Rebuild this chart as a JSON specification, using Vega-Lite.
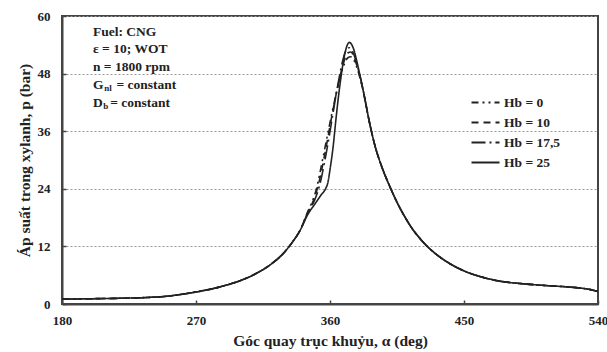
{
  "$schema": "https://vega.github.io/schema/vega-lite/v6.json",
  "width": 536,
  "height": 288,
  "autosize": {"type": "none"},
  "padding": {"left": 62, "top": 16, "right": 9, "bottom": 48},
  "background": "white",
  "config": {
    "view": {"stroke": "#444", "strokeWidth": 2},
    "font": "Liberation Serif",
    "text": {"font": "Liberation Serif", "fontWeight": "bold", "color": "#222"},
    "axis": {
      "labelFont": "Liberation Serif", "labelFontWeight": "bold", "labelFontSize": 13, "labelColor": "#222",
      "titleFont": "Liberation Serif", "titleFontWeight": "bold", "titleFontSize": 15.5, "titleColor": "#222",
      "domainColor": "#444", "domainWidth": 2, "tickColor": "#444", "tickWidth": 1.5
    }
  },
  "datasets": {
    "curves": [
      {"a":180,"p":1.0,"s":"Hb = 0"},{"a":200,"p":1.1,"s":"Hb = 0"},{"a":220,"p":1.2,"s":"Hb = 0"},{"a":240,"p":1.4,"s":"Hb = 0"},{"a":250,"p":1.6,"s":"Hb = 0"},{"a":260,"p":2.0,"s":"Hb = 0"},{"a":270,"p":2.5,"s":"Hb = 0"},{"a":280,"p":3.1,"s":"Hb = 0"},{"a":290,"p":3.9,"s":"Hb = 0"},{"a":300,"p":4.9,"s":"Hb = 0"},{"a":310,"p":6.3,"s":"Hb = 0"},{"a":320,"p":8.2,"s":"Hb = 0"},{"a":330,"p":11.0,"s":"Hb = 0"},{"a":335,"p":13.0,"s":"Hb = 0"},{"a":340,"p":15.4,"s":"Hb = 0"},
      {"a":345,"p":19.2,"s":"Hb = 0"},{"a":348,"p":21.3,"s":"Hb = 0"},{"a":350,"p":23.0,"s":"Hb = 0"},{"a":352,"p":25.5,"s":"Hb = 0"},{"a":354,"p":28.5,"s":"Hb = 0"},{"a":356,"p":31.6,"s":"Hb = 0"},{"a":358,"p":34.7,"s":"Hb = 0"},{"a":360,"p":37.8,"s":"Hb = 0"},{"a":362,"p":40.8,"s":"Hb = 0"},{"a":364,"p":43.6,"s":"Hb = 0"},{"a":366,"p":46.2,"s":"Hb = 0"},{"a":368,"p":48.5,"s":"Hb = 0"},{"a":370,"p":50.3,"s":"Hb = 0"},{"a":372,"p":51.3,"s":"Hb = 0"},{"a":374,"p":51.5,"s":"Hb = 0"},{"a":376,"p":50.8,"s":"Hb = 0"},{"a":378,"p":49.3,"s":"Hb = 0"},{"a":380,"p":47.3,"s":"Hb = 0"},{"a":383,"p":43.3,"s":"Hb = 0"},{"a":386,"p":38.6,"s":"Hb = 0"},
      {"a":390,"p":33.2,"s":"Hb = 0"},{"a":395,"p":28.4,"s":"Hb = 0"},{"a":400,"p":24.6,"s":"Hb = 0"},{"a":405,"p":21.2,"s":"Hb = 0"},{"a":410,"p":18.3,"s":"Hb = 0"},{"a":415,"p":15.8,"s":"Hb = 0"},{"a":420,"p":13.8,"s":"Hb = 0"},{"a":425,"p":12.1,"s":"Hb = 0"},{"a":430,"p":10.7,"s":"Hb = 0"},{"a":440,"p":8.5,"s":"Hb = 0"},{"a":450,"p":6.9,"s":"Hb = 0"},{"a":460,"p":5.8,"s":"Hb = 0"},{"a":470,"p":5.0,"s":"Hb = 0"},{"a":480,"p":4.5,"s":"Hb = 0"},{"a":490,"p":4.2,"s":"Hb = 0"},{"a":500,"p":3.95,"s":"Hb = 0"},{"a":510,"p":3.75,"s":"Hb = 0"},{"a":520,"p":3.55,"s":"Hb = 0"},{"a":530,"p":3.25,"s":"Hb = 0"},{"a":535,"p":3.0,"s":"Hb = 0"},{"a":540,"p":2.6,"s":"Hb = 0"},

      {"a":180,"p":1.0,"s":"Hb = 10"},{"a":200,"p":1.1,"s":"Hb = 10"},{"a":220,"p":1.2,"s":"Hb = 10"},{"a":240,"p":1.4,"s":"Hb = 10"},{"a":250,"p":1.6,"s":"Hb = 10"},{"a":260,"p":2.0,"s":"Hb = 10"},{"a":270,"p":2.5,"s":"Hb = 10"},{"a":280,"p":3.1,"s":"Hb = 10"},{"a":290,"p":3.9,"s":"Hb = 10"},{"a":300,"p":4.9,"s":"Hb = 10"},{"a":310,"p":6.3,"s":"Hb = 10"},{"a":320,"p":8.2,"s":"Hb = 10"},{"a":330,"p":11.0,"s":"Hb = 10"},{"a":335,"p":13.0,"s":"Hb = 10"},{"a":340,"p":15.4,"s":"Hb = 10"},
      {"a":345,"p":19.0,"s":"Hb = 10"},{"a":348,"p":20.9,"s":"Hb = 10"},{"a":350,"p":22.5,"s":"Hb = 10"},{"a":352,"p":24.6,"s":"Hb = 10"},{"a":354,"p":27.3,"s":"Hb = 10"},{"a":356,"p":30.4,"s":"Hb = 10"},{"a":358,"p":33.7,"s":"Hb = 10"},{"a":360,"p":37.1,"s":"Hb = 10"},{"a":362,"p":40.4,"s":"Hb = 10"},{"a":364,"p":43.5,"s":"Hb = 10"},{"a":366,"p":46.4,"s":"Hb = 10"},{"a":368,"p":49.0,"s":"Hb = 10"},{"a":370,"p":51.1,"s":"Hb = 10"},{"a":372,"p":52.3,"s":"Hb = 10"},{"a":374,"p":52.5,"s":"Hb = 10"},{"a":376,"p":51.6,"s":"Hb = 10"},{"a":378,"p":49.7,"s":"Hb = 10"},{"a":380,"p":47.5,"s":"Hb = 10"},{"a":383,"p":43.4,"s":"Hb = 10"},{"a":386,"p":38.6,"s":"Hb = 10"},
      {"a":390,"p":33.2,"s":"Hb = 10"},{"a":395,"p":28.4,"s":"Hb = 10"},{"a":400,"p":24.6,"s":"Hb = 10"},{"a":405,"p":21.2,"s":"Hb = 10"},{"a":410,"p":18.3,"s":"Hb = 10"},{"a":415,"p":15.8,"s":"Hb = 10"},{"a":420,"p":13.8,"s":"Hb = 10"},{"a":425,"p":12.1,"s":"Hb = 10"},{"a":430,"p":10.7,"s":"Hb = 10"},{"a":440,"p":8.5,"s":"Hb = 10"},{"a":450,"p":6.9,"s":"Hb = 10"},{"a":460,"p":5.8,"s":"Hb = 10"},{"a":470,"p":5.0,"s":"Hb = 10"},{"a":480,"p":4.5,"s":"Hb = 10"},{"a":490,"p":4.2,"s":"Hb = 10"},{"a":500,"p":3.95,"s":"Hb = 10"},{"a":510,"p":3.75,"s":"Hb = 10"},{"a":520,"p":3.55,"s":"Hb = 10"},{"a":530,"p":3.25,"s":"Hb = 10"},{"a":535,"p":3.0,"s":"Hb = 10"},{"a":540,"p":2.6,"s":"Hb = 10"},

      {"a":180,"p":1.0,"s":"Hb = 17,5"},{"a":200,"p":1.1,"s":"Hb = 17,5"},{"a":220,"p":1.2,"s":"Hb = 17,5"},{"a":240,"p":1.4,"s":"Hb = 17,5"},{"a":250,"p":1.6,"s":"Hb = 17,5"},{"a":260,"p":2.0,"s":"Hb = 17,5"},{"a":270,"p":2.5,"s":"Hb = 17,5"},{"a":280,"p":3.1,"s":"Hb = 17,5"},{"a":290,"p":3.9,"s":"Hb = 17,5"},{"a":300,"p":4.9,"s":"Hb = 17,5"},{"a":310,"p":6.3,"s":"Hb = 17,5"},{"a":320,"p":8.2,"s":"Hb = 17,5"},{"a":330,"p":11.0,"s":"Hb = 17,5"},{"a":335,"p":13.0,"s":"Hb = 17,5"},{"a":340,"p":15.4,"s":"Hb = 17,5"},
      {"a":345,"p":18.9,"s":"Hb = 17,5"},{"a":348,"p":20.5,"s":"Hb = 17,5"},{"a":350,"p":21.9,"s":"Hb = 17,5"},{"a":352,"p":23.6,"s":"Hb = 17,5"},{"a":354,"p":26.0,"s":"Hb = 17,5"},{"a":356,"p":29.0,"s":"Hb = 17,5"},{"a":358,"p":32.3,"s":"Hb = 17,5"},{"a":360,"p":35.9,"s":"Hb = 17,5"},{"a":362,"p":39.7,"s":"Hb = 17,5"},{"a":364,"p":43.4,"s":"Hb = 17,5"},{"a":366,"p":46.9,"s":"Hb = 17,5"},{"a":368,"p":50.0,"s":"Hb = 17,5"},{"a":370,"p":52.3,"s":"Hb = 17,5"},{"a":372,"p":53.3,"s":"Hb = 17,5"},{"a":373,"p":53.4,"s":"Hb = 17,5"},{"a":374,"p":53.2,"s":"Hb = 17,5"},{"a":376,"p":52.0,"s":"Hb = 17,5"},{"a":378,"p":50.0,"s":"Hb = 17,5"},{"a":380,"p":47.7,"s":"Hb = 17,5"},{"a":383,"p":43.4,"s":"Hb = 17,5"},{"a":386,"p":38.6,"s":"Hb = 17,5"},
      {"a":390,"p":33.2,"s":"Hb = 17,5"},{"a":395,"p":28.4,"s":"Hb = 17,5"},{"a":400,"p":24.6,"s":"Hb = 17,5"},{"a":405,"p":21.2,"s":"Hb = 17,5"},{"a":410,"p":18.3,"s":"Hb = 17,5"},{"a":415,"p":15.8,"s":"Hb = 17,5"},{"a":420,"p":13.8,"s":"Hb = 17,5"},{"a":425,"p":12.1,"s":"Hb = 17,5"},{"a":430,"p":10.7,"s":"Hb = 17,5"},{"a":440,"p":8.5,"s":"Hb = 17,5"},{"a":450,"p":6.9,"s":"Hb = 17,5"},{"a":460,"p":5.8,"s":"Hb = 17,5"},{"a":470,"p":5.0,"s":"Hb = 17,5"},{"a":480,"p":4.5,"s":"Hb = 17,5"},{"a":490,"p":4.2,"s":"Hb = 17,5"},{"a":500,"p":3.95,"s":"Hb = 17,5"},{"a":510,"p":3.75,"s":"Hb = 17,5"},{"a":520,"p":3.55,"s":"Hb = 17,5"},{"a":530,"p":3.25,"s":"Hb = 17,5"},{"a":535,"p":3.0,"s":"Hb = 17,5"},{"a":540,"p":2.6,"s":"Hb = 17,5"},

      {"a":180,"p":1.0,"s":"Hb = 25"},{"a":200,"p":1.1,"s":"Hb = 25"},{"a":220,"p":1.2,"s":"Hb = 25"},{"a":240,"p":1.4,"s":"Hb = 25"},{"a":250,"p":1.6,"s":"Hb = 25"},{"a":260,"p":2.0,"s":"Hb = 25"},{"a":270,"p":2.5,"s":"Hb = 25"},{"a":280,"p":3.1,"s":"Hb = 25"},{"a":290,"p":3.9,"s":"Hb = 25"},{"a":300,"p":4.9,"s":"Hb = 25"},{"a":310,"p":6.3,"s":"Hb = 25"},{"a":320,"p":8.2,"s":"Hb = 25"},{"a":330,"p":11.0,"s":"Hb = 25"},{"a":335,"p":13.0,"s":"Hb = 25"},{"a":340,"p":15.4,"s":"Hb = 25"},
      {"a":345,"p":18.6,"s":"Hb = 25"},{"a":350,"p":20.9,"s":"Hb = 25"},{"a":354,"p":22.7,"s":"Hb = 25"},{"a":357,"p":24.0,"s":"Hb = 25"},{"a":358.5,"p":25.2,"s":"Hb = 25"},{"a":360,"p":28.0,"s":"Hb = 25"},{"a":362,"p":32.5,"s":"Hb = 25"},{"a":364,"p":38.5,"s":"Hb = 25"},{"a":366,"p":44.0,"s":"Hb = 25"},{"a":368,"p":48.6,"s":"Hb = 25"},{"a":370,"p":52.2,"s":"Hb = 25"},{"a":372,"p":54.2,"s":"Hb = 25"},{"a":373,"p":54.5,"s":"Hb = 25"},{"a":374,"p":54.3,"s":"Hb = 25"},{"a":376,"p":53.0,"s":"Hb = 25"},{"a":378,"p":50.6,"s":"Hb = 25"},{"a":380,"p":47.8,"s":"Hb = 25"},{"a":383,"p":43.4,"s":"Hb = 25"},{"a":386,"p":38.6,"s":"Hb = 25"},
      {"a":390,"p":33.2,"s":"Hb = 25"},{"a":395,"p":28.4,"s":"Hb = 25"},{"a":400,"p":24.6,"s":"Hb = 25"},{"a":405,"p":21.2,"s":"Hb = 25"},{"a":410,"p":18.3,"s":"Hb = 25"},{"a":415,"p":15.8,"s":"Hb = 25"},{"a":420,"p":13.8,"s":"Hb = 25"},{"a":425,"p":12.1,"s":"Hb = 25"},{"a":430,"p":10.7,"s":"Hb = 25"},{"a":440,"p":8.5,"s":"Hb = 25"},{"a":450,"p":6.9,"s":"Hb = 25"},{"a":460,"p":5.8,"s":"Hb = 25"},{"a":470,"p":5.0,"s":"Hb = 25"},{"a":480,"p":4.5,"s":"Hb = 25"},{"a":490,"p":4.2,"s":"Hb = 25"},{"a":500,"p":3.95,"s":"Hb = 25"},{"a":510,"p":3.75,"s":"Hb = 25"},{"a":520,"p":3.55,"s":"Hb = 25"},{"a":530,"p":3.25,"s":"Hb = 25"},{"a":535,"p":3.0,"s":"Hb = 25"},{"a":540,"p":2.6,"s":"Hb = 25"}
    ],
    "one": [{"k": 1}]
  },
  "layer": [
    {
      "data": {"name": "curves"},
      "mark": {"type": "line", "color": "#222", "strokeWidth": 1.6, "interpolate": "monotone", "clip": true},
      "encoding": {
        "x": {"field": "a", "type": "quantitative",
              "scale": {"domain": [180, 540], "nice": false, "zero": false},
              "axis": {"values": [180, 270, 360, 450, 540], "title": "Góc quay trục khuỷu, α (deg)", "grid": false,
                       "tickSize": -4, "labelPadding": 14, "titlePadding": 6, "labelFlush": false}},
        "y": {"field": "p", "type": "quantitative",
              "scale": {"domain": [0, 60], "nice": false},
              "axis": {"values": [0, 12, 24, 36, 48, 60], "title": "Áp suất  trong xylanh, p (bar)", "grid": true,
                       "gridColor": "#999", "gridDash": [2, 2], "gridWidth": 1.2,
                       "tickSize": -4, "labelPadding": 16, "titlePadding": 5}},
        "strokeDash": {"field": "s", "type": "nominal",
              "scale": {"domain": ["Hb = 0", "Hb = 10", "Hb = 17,5", "Hb = 25"],
                        "range": [[7, 4, 2, 4, 2, 4], [7, 5], [14, 4, 2, 4], [1, 0]]},
              "legend": {"title": null, "orient": "none", "legendX": 408, "legendY": 79,
                         "symbolType": "stroke", "symbolSize": 784, "symbolStrokeWidth": 2.2, "symbolStrokeColor": "#222",
                         "clipHeight": 15, "rowPadding": 5,
                         "labelFont": "Liberation Serif", "labelFontWeight": "bold", "labelFontSize": 13.5, "labelColor": "#222",
                         "labelOffset": 3}}
      }
    },
    {
      "data": {"name": "one"},
      "mark": {"type": "text", "align": "left", "baseline": "top", "fontSize": 13.5, "lineHeight": 17.8,
               "text": ["Fuel: CNG", "ε = 10; WOT", "n = 1800 rpm"]},
      "encoding": {"x": {"datum": 200.8}, "y": {"datum": 58.2}}
    },
    {
      "data": {"name": "one"},
      "mark": {"type": "text", "align": "left", "baseline": "top", "fontSize": 13.5, "text": "G"},
      "encoding": {"x": {"datum": 200.8}, "y": {"datum": 47.08}}
    },
    {
      "data": {"name": "one"},
      "mark": {"type": "text", "align": "left", "baseline": "alphabetic", "fontSize": 9, "text": "nl"},
      "encoding": {"x": {"datum": 208.3}, "y": {"datum": 44.3}}
    },
    {
      "data": {"name": "one"},
      "mark": {"type": "text", "align": "left", "baseline": "top", "fontSize": 13.5, "text": "= constant"},
      "encoding": {"x": {"datum": 216.6}, "y": {"datum": 47.08}}
    },
    {
      "data": {"name": "one"},
      "mark": {"type": "text", "align": "left", "baseline": "top", "fontSize": 13.5, "text": "D"},
      "encoding": {"x": {"datum": 200.8}, "y": {"datum": 43.38}}
    },
    {
      "data": {"name": "one"},
      "mark": {"type": "text", "align": "left", "baseline": "alphabetic", "fontSize": 9, "text": "b"},
      "encoding": {"x": {"datum": 207.7}, "y": {"datum": 40.6}}
    },
    {
      "data": {"name": "one"},
      "mark": {"type": "text", "align": "left", "baseline": "top", "fontSize": 13.5, "text": "= constant"},
      "encoding": {"x": {"datum": 212.4}, "y": {"datum": 43.38}}
    }
  ]
}
